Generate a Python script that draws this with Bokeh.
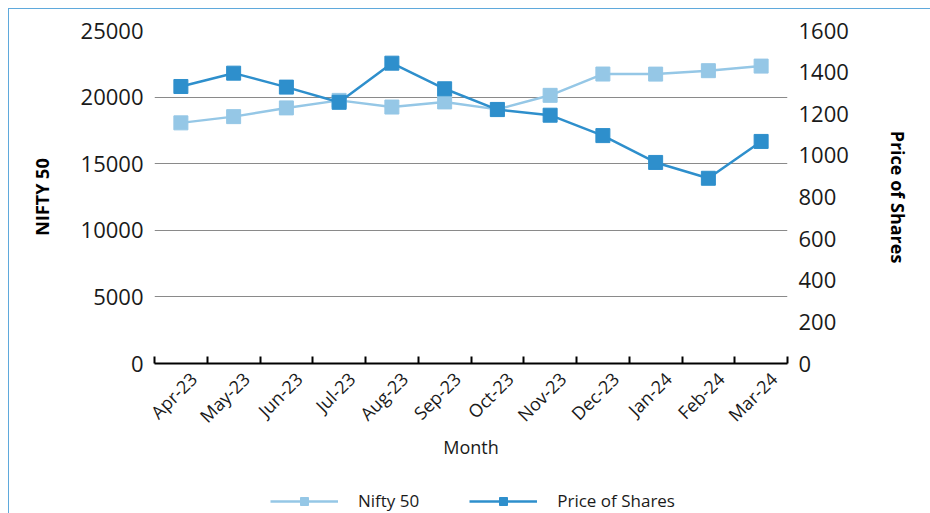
from math import pi
from bokeh.plotting import figure
from bokeh.layouts import column
from bokeh.models import Range1d, LinearAxis, FixedTicker, Legend, LegendItem, ColumnDataSource
from bokeh.embed import file_html
from bokeh.resources import INLINE

# ---- data ----
months = ["Apr-23", "May-23", "Jun-23", "Jul-23", "Aug-23", "Sep-23",
          "Oct-23", "Nov-23", "Dec-23", "Jan-24", "Feb-24", "Mar-24"]
nifty = [18065, 18534, 19189, 19754, 19254, 19638, 19079, 20133, 21731, 21726, 21983, 22327]
price = [1331, 1395, 1328, 1255, 1443, 1320, 1220, 1193, 1095, 966, 890, 1067]
left_ticks = [0, 5000, 10000, 15000, 20000, 25000]
right_ticks = [0, 200, 400, 600, 800, 1000, 1200, 1400, 1600]
series_names = ["Nifty 50", "Price of Shares"]

FONT = "Open Sans"
NIFTY_COLOR = "#95c7e6"
PRICE_COLOR = "#2e8fcc"

xpos = [i + 0.5 for i in range(len(months))]
# rotated labels sit slightly right of the category centre, as in the original
label_pos = [x + 0.24 for x in xpos]
src = ColumnDataSource(dict(x=xpos, month=months, nifty=nifty, price=price))

p = figure(frame_width=633, frame_height=333, x_range=Range1d(0, len(months)),
           y_range=Range1d(0, 25000), output_backend="svg", toolbar_location=None,
           min_border_left=145, min_border_right=143, min_border_top=21, min_border_bottom=120)
p.outline_line_color = None
p.extra_y_ranges = {"price": Range1d(0, 1600)}

# grid
p.xgrid.grid_line_color = None
p.ygrid.ticker = FixedTicker(ticks=left_ticks)
p.ygrid.grid_line_color = "#8a8a8a"
p.ygrid.grid_line_width = 1.2

# left axis
ya = p.yaxis[0]
ya.ticker = FixedTicker(ticks=left_ticks)
ya.axis_line_color = None
ya.major_tick_line_color = None
ya.minor_tick_line_color = None
ya.major_tick_in = 0
ya.major_tick_out = 0
ya.minor_tick_in = 0
ya.minor_tick_out = 0
ya.major_label_text_font = FONT
ya.major_label_text_font_size = "22px"
ya.major_label_text_color = "#1a1a1a"
ya.major_label_standoff = 11
ya.axis_label = "NIFTY 50"
ya.axis_label_text_font = FONT
ya.axis_label_text_font_size = "18px"
ya.axis_label_text_font_style = "bold"
ya.axis_label_text_color = "#000000"
ya.axis_label_standoff = 24

# right axis
ra = LinearAxis(y_range_name="price", ticker=FixedTicker(ticks=right_ticks))
ra.axis_line_color = None
ra.major_tick_line_color = None
ra.minor_tick_line_color = None
ra.major_tick_in = 0
ra.major_tick_out = 0
ra.minor_tick_in = 0
ra.minor_tick_out = 0
ra.major_label_text_font = FONT
ra.major_label_text_font_size = "22px"
ra.major_label_text_color = "#1a1a1a"
ra.major_label_standoff = 11
ra.axis_label = "Price of Shares"
ra.axis_label_text_font = FONT
ra.axis_label_text_font_size = "18px"
ra.axis_label_text_font_style = "bold"
ra.axis_label_text_color = "#000000"
ra.axis_label_standoff = 34
p.add_layout(ra, "right")

# bottom axis
xa = p.xaxis[0]
xa.ticker = FixedTicker(ticks=label_pos, minor_ticks=list(range(len(months) + 1)))
xa.major_label_overrides = {xv: m for xv, m in zip(label_pos, months)}
xa.major_label_orientation = pi / 4
xa.major_tick_in = 0
xa.major_tick_out = 0
xa.minor_tick_in = 7
xa.minor_tick_out = 0
xa.minor_tick_line_color = "#000000"
xa.minor_tick_line_width = 2
xa.axis_line_color = "#000000"
xa.axis_line_width = 2
xa.major_label_text_font = FONT
xa.major_label_text_font_size = "18px"
xa.major_label_text_color = "#1a1a1a"
xa.major_label_standoff = 12
xa.axis_label = "Month"
xa.axis_label_text_font = FONT
xa.axis_label_text_font_size = "18px"
xa.axis_label_text_font_style = "normal"
xa.axis_label_text_color = "#1a1a1a"
xa.axis_label_standoff = -4

# series
p.line("x", "nifty", source=src, color=NIFTY_COLOR, line_width=2.5)
p.scatter("x", "nifty", source=src, marker="square", size=14,
          fill_color=NIFTY_COLOR, line_color=NIFTY_COLOR)
p.line("x", "price", source=src, color=PRICE_COLOR, line_width=2.5, y_range_name="price")
p.scatter("x", "price", source=src, marker="square", size=14,
          fill_color=PRICE_COLOR, line_color=PRICE_COLOR, y_range_name="price")

# ---- legend strip below the chart (proxy renderers kept outside its visible range) ----
lg = figure(width=921, height=34, output_backend="svg", toolbar_location=None,
            x_range=Range1d(0, len(months)), y_range=Range1d(-2, -1),
            x_axis_location=None, y_axis_location=None, min_border=0)
lg.grid.visible = False
lg.outline_line_color = None
items = []
for name, field, col in zip(series_names, ["nifty", "price"], [NIFTY_COLOR, PRICE_COLOR]):
    lr = lg.line("x", field, source=src, color=col, line_width=2.5)
    sr = lg.scatter("x", field, source=src, marker="square", size=14,
                    fill_color=col, line_color=col)
    items.append(LegendItem(label=name, renderers=[lr, sr]))
legend = Legend(items=items, orientation="horizontal", location=(116, 5),
                glyph_width=68, glyph_height=20, label_standoff=20, spacing=50,
                label_text_font=FONT, label_text_font_size="17px", label_text_color="#1a1a1a",
                border_line_color=None, background_fill_alpha=0, padding=0, margin=0)
lg.add_layout(legend, "center")

layout = column(p, lg, spacing=0)
layout.styles = {"margin-left": "8px", "margin-top": "8px",
                 "border-left": "1px solid #5fa9dc", "border-top": "1px solid #5fa9dc"}

open("out.html", "w").write(file_html(layout, INLINE))
